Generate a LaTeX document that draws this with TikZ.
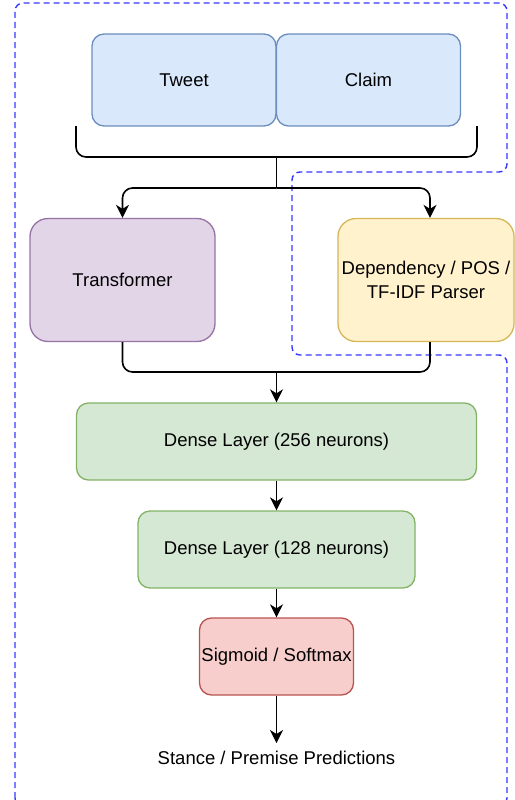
\documentclass[tikz,border=0pt]{standalone}
\usepackage{fontspec}
\setmainfont{Liberation Sans}
\usetikzlibrary{arrows.meta}

\definecolor{tweetfill}{HTML}{DAE8FC}
\definecolor{tweetline}{HTML}{6C8EBF}
\definecolor{encfill}{HTML}{E1D5E7}
\definecolor{encline}{HTML}{9673A6}
\definecolor{parsefill}{HTML}{FFF2CC}
\definecolor{parseline}{HTML}{D6B656}
\definecolor{densefill}{HTML}{D5E8D4}
\definecolor{denseline}{HTML}{82B366}
\definecolor{actfill}{HTML}{F8CECC}
\definecolor{actline}{HTML}{B85450}
\definecolor{outline}{RGB}{55,55,255}

\begin{document}
\begin{tikzpicture}[x=1pt,y=-1pt,
                font=\fontsize{18.5}{23.5}\selectfont,
                block/.style={draw, line width=1.3pt, rounded corners=12pt, inner sep=1pt, align=center},
                conn/.style={line width=1.6pt, rounded corners=10pt},
                arrow/.style={conn, -{Stealth[length=13pt,width=13pt,inset=4pt]}},
                region/.style={draw=outline, line width=1.4pt, dash pattern=on 6pt off 4pt, rounded corners=8pt}]
                \useasboundingbox (0,0) rectangle (514,800);
                
                \draw[region] (15,806) -- (15,3) -- (507,3) -- (507,172) -- (292,172) -- (292,355) -- (507,355) -- (507,806) -- cycle;
                
                \node[block, fill=tweetfill, draw=tweetline, minimum width=184pt, minimum height=92pt] (tweet) at (184,80) {Tweet};
                \node[block, fill=tweetfill, draw=tweetline, minimum width=184pt, minimum height=92pt] (claim) at (368.5,80) {Claim};
                
                \node[block, fill=encfill, draw=encline, rounded corners=18pt, minimum width=185pt, minimum height=123pt] (trans) at (122.5,280) {Transformer};
                \node[block, fill=parsefill, draw=parseline, rounded corners=18pt, minimum width=176pt, minimum height=123pt] (parser) at (426,280) {Dependency / POS /\\TF-IDF Parser};
                
                \node[block, fill=densefill, draw=denseline, minimum width=400pt, minimum height=77pt] (dense1) at (276.5,441.5) {Dense Layer (256 neurons)};
                \node[block, fill=densefill, draw=denseline, minimum width=277pt, minimum height=77pt] (dense2) at (276.5,549.5) {Dense Layer (128 neurons)};
                \node[block, fill=actfill, draw=actline, minimum width=154pt, minimum height=77pt] (act) at (276.5,656.5) {Sigmoid / Softmax};
                \node[inner sep=8pt] (pred) at (276.5,758) {Stance / Premise Predictions};
                
                \coordinate (bl) at (76,126);
                \coordinate (br) at (477,126);
                \coordinate (bmid) at (276.5,157);
                \coordinate (split) at (276.5,188);
                \coordinate (merge) at (276.5,372);
                
                \draw[conn] (bl) -- (bl |- bmid) -- (br |- bmid) -- (br);
                \draw[conn] (bmid) -- (split);
                \draw[arrow] (split) -| (trans.north);
                \draw[arrow] (split) -| ([xshift=4pt]parser.north);
                
                \draw[conn] (trans.south) |- (merge) -| ([xshift=4pt]parser.south);
                \draw[arrow] (merge) -- (dense1.north);
                \draw[arrow] (dense1.south) -- (dense2.north);
                \draw[arrow] (dense2.south) -- (act.north);
                \draw[arrow] (act.south) -- (pred.north);
            \end{tikzpicture}
\end{document}
